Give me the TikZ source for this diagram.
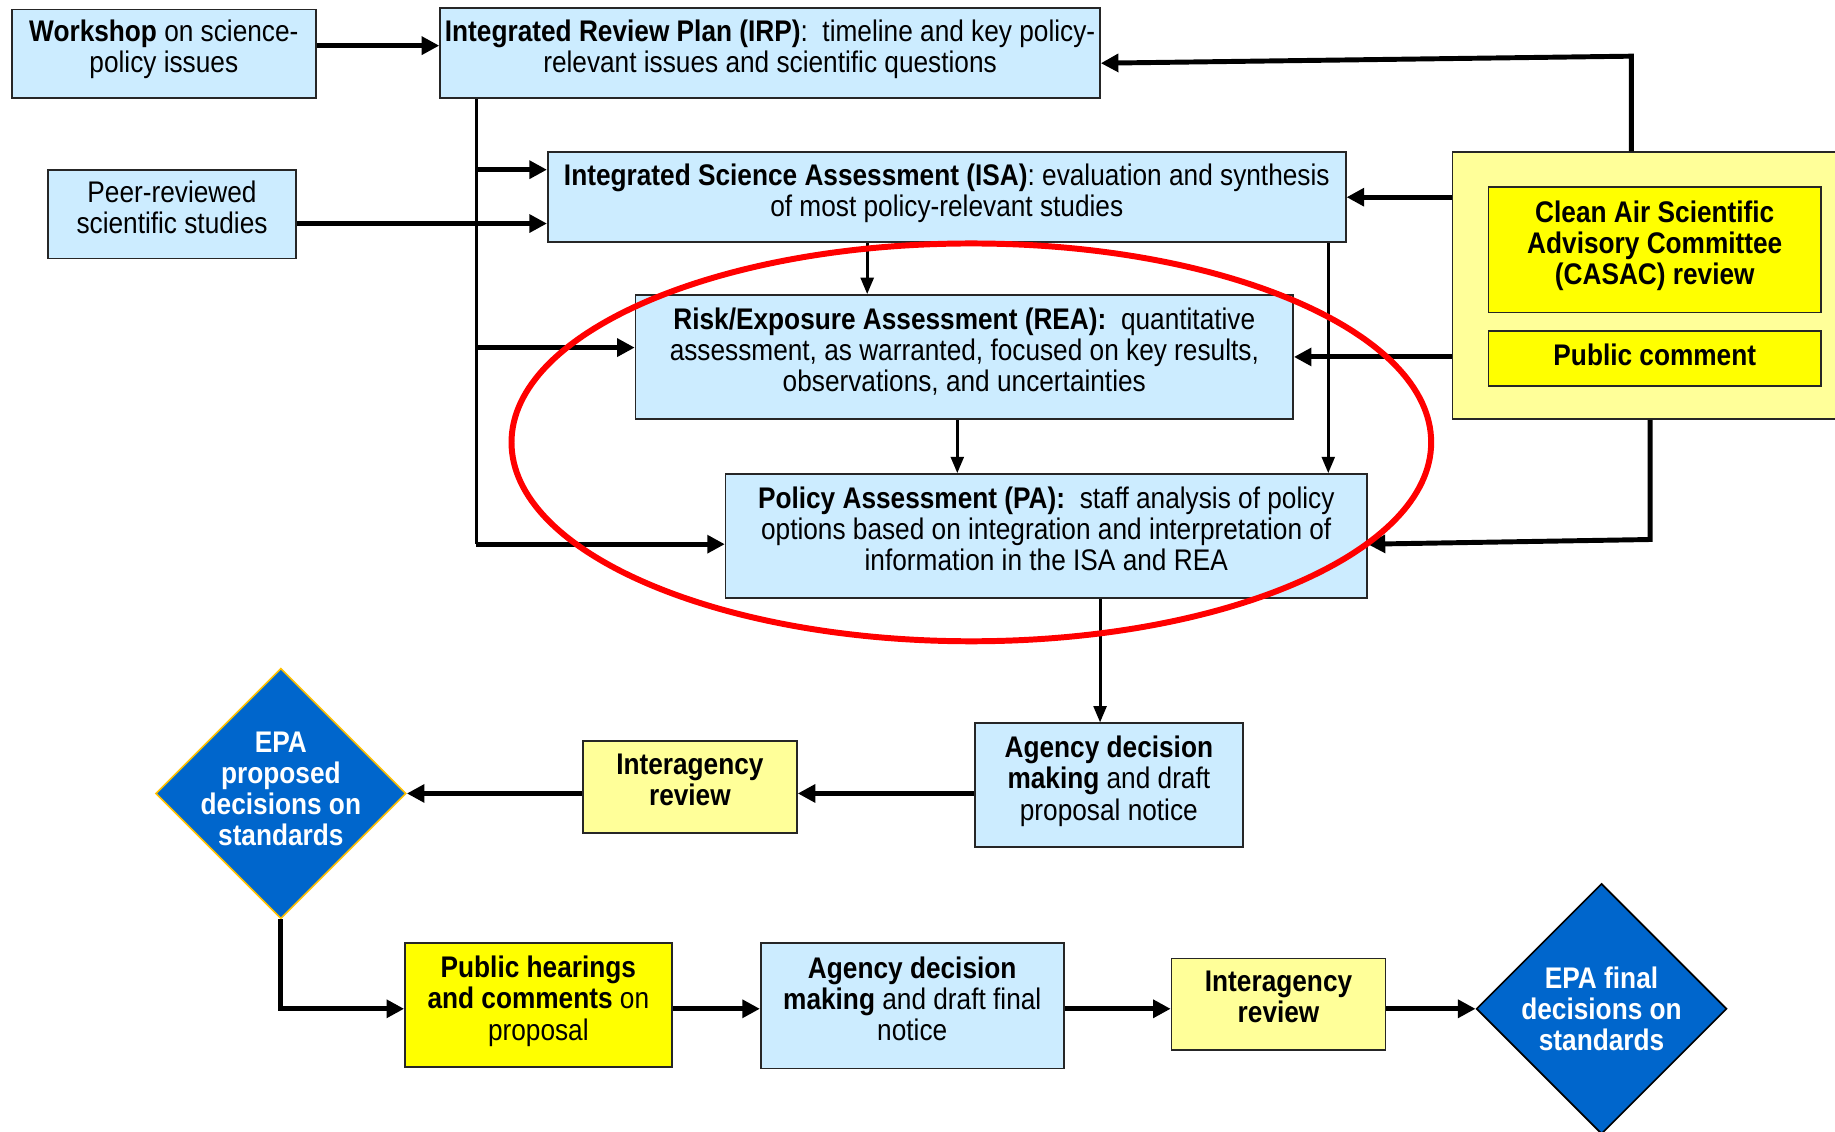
\documentclass[tikz,border=0pt]{standalone}
\usepackage{fontspec}
\setmainfont{Liberation Sans}[FakeStretch=0.88]
\usetikzlibrary{shapes.geometric,arrows.meta}
\definecolor{paleblue}{HTML}{CCECFF}
\definecolor{paleyellow}{HTML}{FFFF99}
\definecolor{brightyellow}{HTML}{FFFF00}
\definecolor{epablue}{HTML}{0066CC}
\definecolor{gold}{HTML}{FFC000}
\newcommand{\diagfont}{\fontsize{14.5}{15.2}\selectfont}

\begin{document}
\begin{tikzpicture}[x=0.02cm,y=-0.02cm,font=\diagfont,
    box/.style={draw=black!85,line width=0.8pt,fill=paleblue,align=center,inner sep=0pt,text depth=0.25cm},
    pbox/.style={box,fill=paleyellow,font=\diagfont\bfseries},
    ybox/.style={box,fill=brightyellow,font=\diagfont\bfseries},
    decision/.style={diamond,shape aspect=1,fill=epablue,minimum width=4.28cm,minimum height=4.28cm,inner sep=0pt,line width=0.8pt},
    dtext/.style={text=white,font=\diagfont\bfseries,align=center},
    arr/.style={-{Triangle[length=0.3cm,width=0.3cm]},line width=2.4pt},
    tarr/.style={-{Triangle[length=0.28cm,width=0.22cm]},line width=1.4pt},
    link/.style={line width=1.6pt}]
  \useasboundingbox (0,0) rectangle (1568,967);

  \node[box,minimum width=5.2cm,minimum height=1.52cm] (wshop) at (140,46)
    {\textbf{Workshop} on science-\\policy issues};
  \node[box,minimum width=11.28cm,minimum height=1.54cm] (irp) at (658,45.5)
    {\textbf{Integrated Review Plan (IRP)}:\ \ timeline and key policy-\\relevant issues and scientific questions};
  \node[box,minimum width=4.24cm,minimum height=1.52cm] (peer) at (147,183)
    {Peer-reviewed\\scientific studies};
  \node[box,minimum width=13.64cm,minimum height=1.54cm] (isa) at (809,168.5)
    {\textbf{Integrated Science Assessment (ISA)}: evaluation and synthesis\\of most policy-relevant studies};
  \node[box,minimum width=11.24cm,minimum height=2.12cm] (rea) at (824,305)
    {\textbf{Risk/Exposure Assessment (REA):}\ \ quantitative\\assessment, as warranted, focused on key results,\\observations, and uncertainties};
  \node[box,minimum width=10.96cm,minimum height=2.12cm] (pa) at (894,458)
    {\textbf{Policy Assessment (PA):}\ \ staff analysis of policy\\options based on integration and interpretation of\\information in the ISA and REA};

  \node[draw=black!85,line width=0.8pt,fill=paleyellow,minimum width=7.18cm,minimum height=4.56cm] (panel) at (1420.5,244) {};
  \node[ybox,minimum width=5.68cm,minimum height=2.14cm] (casac) at (1414,213.5)
    {Clean Air Scientific\\Advisory Committee\\(CASAC) review};
  \node[ybox,minimum width=5.68cm,minimum height=0.94cm,text depth=0.14cm] (pubc) at (1414,306.5) {Public comment};

  \node[box,minimum width=4.58cm,minimum height=2.12cm] (agency1) at (947.5,671)
    {\textbf{Agency decision}\\\textbf{making} and draft\\proposal notice};
  \node[pbox,minimum width=3.66cm,minimum height=1.58cm] (inter1) at (589.5,672.5) {Interagency\\review};
  \node[decision,draw=gold,label={[dtext,yshift=0.08cm]center:{EPA\\proposed\\decisions on\\standards}}] (epa1) at (240,678) {};

  \node[ybox,minimum width=4.56cm,minimum height=2.12cm,font=\diagfont] (hear) at (460,859)
    {\textbf{Public hearings}\\\textbf{and comments} on\\proposal};
  \node[box,minimum width=5.18cm,minimum height=2.14cm] (agency2) at (779.5,859.5)
    {\textbf{Agency decision}\\\textbf{making} and draft final\\notice};
  \node[pbox,minimum width=3.66cm,minimum height=1.56cm] (inter2) at (1092.5,858) {Interagency\\review};
  \node[decision,draw=black,label={[dtext]center:{EPA final\\decisions on\\standards}}] (epa2) at (1368.5,862) {};

  \coordinate (b1) at (407,145);
  \coordinate (b2) at (407,297);
  \coordinate (b3) at (407,465);
  \coordinate (c1) at (741,0);
  \coordinate (c2) at (1135,0);
  \coordinate (c3) at (818,0);
  \coordinate (c4) at (1394,48);
  \coordinate (c5) at (1410,461);
  \coordinate (c6) at (940,0);

  \draw[arr] ([yshift=0.14cm]wshop.east) -- ([yshift=0.14cm]wshop.east -| irp.west);
  \draw[link] (b1 |- irp.south) -- (b3);
  \draw[arr] (b1) -- (b1 -| isa.west);
  \draw[arr] (b2) -- (b2 -| rea.west);
  \draw[arr] (b3) -- (b3 -| pa.west);
  \draw[arr] ([yshift=-0.16cm]peer.east) -- ([yshift=-0.16cm]peer.east -| isa.west);
  \draw[tarr] (c1 |- isa.south) -- (c1 |- rea.north);
  \draw[tarr] (c2 |- isa.south) -- (c2 |- pa.north);
  \draw[tarr] (c3 |- rea.south) -- (c3 |- pa.north);
  \draw[arr] (panel.west |- isa.east) -- (isa.east);
  \draw[arr] (panel.west |- rea.east) -- (rea.east);
  \draw[arr] (c4 |- panel.north) -- (c4) -- ([yshift=-0.17cm]irp.east);
  \draw[arr] (c5 |- panel.south) -- (c5) -- ([yshift=-0.14cm]pa.east);
  \draw[tarr] (c6 |- pa.south) -- (c6 |- agency1.north);
  \draw[arr] (agency1.west |- epa1) -- (inter1.east |- epa1);
  \draw[arr] (inter1.west |- epa1) -- (epa1.east);
  \draw[arr] (epa1.south) -- (epa1 |- epa2) -- (hear.west |- epa2);
  \draw[arr] (hear.east |- epa2) -- (agency2.west |- epa2);
  \draw[arr] (agency2.east |- epa2) -- (inter2.west |- epa2);
  \draw[arr] (inter2.east |- epa2) -- (epa2.west);

  \draw[red,line width=2.9pt] (830,378) ellipse [x radius=7.86cm,y radius=3.4cm];
\end{tikzpicture}
\end{document}
